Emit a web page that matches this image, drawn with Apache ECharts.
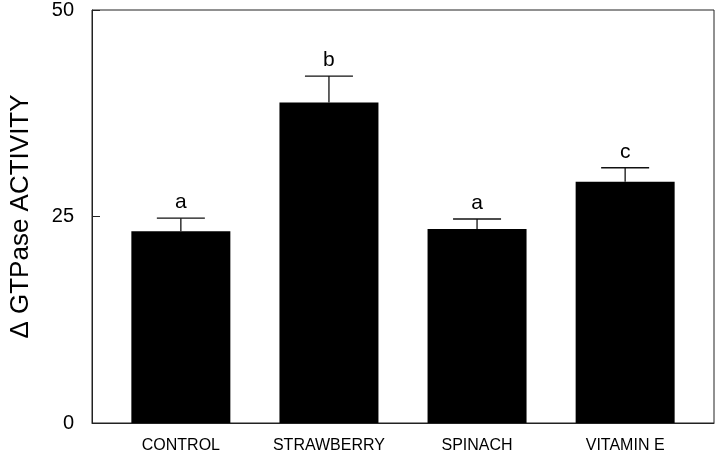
<!DOCTYPE html>
<html>
<head>
<meta charset="utf-8">
<script src="https://cdn.jsdelivr.net/npm/echarts@6/dist/echarts.min.js"></script>
<style>html,body{margin:0;padding:0;background:#fff;}#chart{width:720px;height:454px;}</style>
</head>
<body>
<div id="chart"></div>
<script>
var categories = ['CONTROL', 'STRAWBERRY', 'SPINACH', 'VITAMIN E'];
var means = [23.2, 38.8, 23.5, 29.2];
var errorTops = [24.8, 42.0, 24.7, 30.9];
var letters = ['a', 'b', 'a', 'c'];
var yTicks = [0, 25, 50];

var barData = means.map(function (v, i) { return [i, v]; });
var errData = means.map(function (v, i) { return [i, v, errorTops[i], letters[i]]; });

var chart = echarts.init(document.getElementById('chart'));
chart.setOption({
  backgroundColor: '#fff',
  animation: false,
  grid: { left: 91, right: 6, top: 7, bottom: 31, show: true, borderColor: '#222', borderWidth: 1, backgroundColor: 'transparent' },
  xAxis: {
    type: 'value', min: -0.6, max: 3.6,
    axisLine: { show: true, onZero: false, lineStyle: { color: '#222', width: 1 } },
    axisTick: { show: false },
    splitLine: { show: false },
    axisLabel: {
      customValues: [0, 1, 2, 3],
      formatter: function (v) { return categories[Math.round(v)] || ''; },
      color: '#000', fontFamily: 'Liberation Sans', fontSize: 16, margin: 15
    }
  },
  yAxis: {
    type: 'value', min: 0, max: 50, interval: 25,
    name: 'Δ GTPase ACTIVITY', nameLocation: 'middle', nameGap: 58,
    nameTextStyle: { color: '#000', fontFamily: 'Liberation Sans', fontSize: 26 },
    axisLine: { show: true, onZero: false, lineStyle: { color: '#222', width: 1 } },
    axisTick: { show: true, inside: true, length: 8, lineStyle: { color: '#222' } },
    splitLine: { show: false },
    axisLabel: {
      color: '#000', fontFamily: 'Liberation Sans', fontSize: 20, margin: 18,
      formatter: function (v) { return yTicks.indexOf(v) >= 0 ? String(v) : ''; }
    }
  },
  series: [
    {
      type: 'bar', data: barData, barWidth: 99,
      itemStyle: { color: '#000' }
    },
    {
      type: 'custom', data: errData, z: 5,
      renderItem: function (params, api) {
        var x = api.value(0);
        var base = api.coord([x, api.value(1)]);
        var top = api.coord([x, api.value(2)]);
        var half = 24;
        var st = { stroke: '#111', lineWidth: 1.3 };
        return {
          type: 'group',
          children: [
            { type: 'line', shape: { x1: base[0], y1: base[1], x2: top[0], y2: top[1] }, style: st },
            { type: 'line', shape: { x1: top[0] - half, y1: top[1], x2: top[0] + half, y2: top[1] }, style: st },
            { type: 'text', x: top[0], y: top[1] - 5, style: { text: letters[params.dataIndex], fill: '#000', font: '21px "Liberation Sans"', textAlign: 'center', textVerticalAlign: 'bottom' } }
          ]
        };
      }
    }
  ]
});
</script>
</body>
</html>
